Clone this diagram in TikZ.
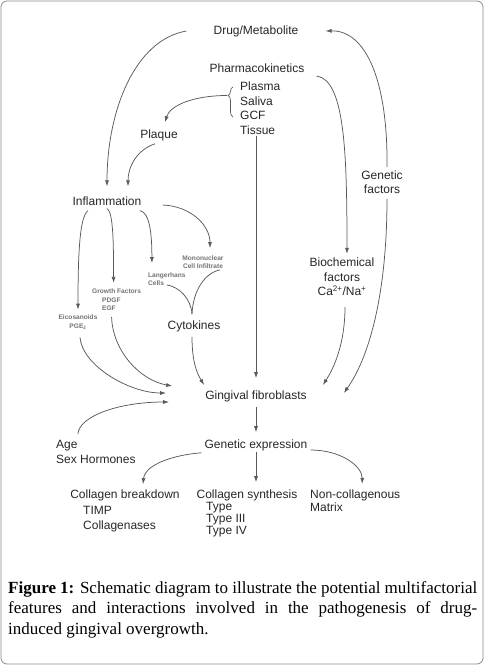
\documentclass[tikz,border=0pt]{standalone}
\usepackage{fontspec}
\setmainfont{Liberation Serif}
\setsansfont{Liberation Sans}
\usetikzlibrary{arrows.meta,decorations.pathreplacing}

\begin{document}
\begin{tikzpicture}[x=1pt, y=1pt,
  txt/.style={inner sep=1pt, text=black!85, font=\sffamily\fontsize{12}{14.5}\selectfont},
  lead/.style={font=\sffamily\fontsize{12}{#1}\selectfont},
  minor/.style={inner sep=1pt, text=black!55, align=center,
    font=\sffamily\bfseries\fontsize{6.6}{8.5}\selectfont},
  link/.style={draw=black!65, line width=0.75pt},
  arr/.style={link, -{Latex[length=6pt,width=4pt]}}]

\useasboundingbox (0,0) rectangle (484,-665);
\draw[black!45, line width=0.8pt, rounded corners=6pt] (1,-1) rectangle (483,-664); %% frame

\node[txt] (drug) at (256,-31) {Drug/Metabolite};
\node[txt] (pharma) at (257,-68) {Pharmacokinetics};
\node[txt, anchor=west, align=left] (fluids) at (239,-101) {Plasma\\Saliva\\GCF};
\node[txt, anchor=west] (tissue) at (239,-130) {Tissue};
\node[txt] (plaque) at (159,-135) {Plaque};
\node[txt, align=center] (genf) at (382,-182) {Genetic\\factors};
\node[txt] (infl) at (107,-201) {Inflammation};
\node[txt, align=center] (bio) at (342,-277)
  {Biochemical\\factors\\Ca\textsuperscript{2+}/Na\textsuperscript{+}};

\small
\node[minor] (mono) at (203,-262) {Mononuclear\\Cell Infiltrate};
\node[minor, anchor=west, align=left] (lang) at (147,-279) {Langerhans\\Cells};
\node[minor, anchor=west, align=left] (growth) at (91,-300)
  {Growth Factors\\\hspace*{10pt}PDGF\\\hspace*{10pt}EGF};
\node[minor] (eico) at (78,-322) {Eicosanoids\\PGE\textsubscript{2}};
\node[txt] (cyto) at (194,-326) {Cytokines};

\node[txt] (ging) at (256,-396) {Gingival fibroblasts};
\node[txt, lead=15, anchor=west, align=left] (age) at (55,-452) {Age\\Sex Hormones};
\node[txt] (genexp) at (256,-445) {Genetic expression};
\node[txt] (cbreak) at (125,-495) {Collagen breakdown};
\node[txt, lead=15, anchor=west, align=left] (cbitems) at (82,-519) {TIMP\\Collagenases};
\node[txt] (csyn) at (247,-495) {Collagen synthesis};
\node[txt, lead=12, anchor=west, align=left] (types) at (205,-520) {Type\\Type III\\Type IV};
\node[txt, lead=13, anchor=west, align=left] (noncol) at (309,-501) {Non-collagenous\\Matrix};

%% brace round the fluids
\draw[link, line width=0.7pt, decorate, decoration={brace, amplitude=5pt, aspect=0.72}]
  (233,-117) -- (233,-87);
\coordinate (bracetip) at (227,-95.5);

%% upper part
\draw[arr] ([xshift=-26pt]drug.west) .. controls +(-52,-9) and +(0,75) .. ([yshift=9pt]infl.north);
\draw[arr] ([xshift=5pt,yshift=2pt]genf.north) .. controls +(1,87) and +(40,1) .. ([xshift=26pt]drug.east);
\draw[arr] ([xshift=11pt,yshift=-8pt]pharma.east) .. controls +(28,-4) and +(0,103) .. ([xshift=5pt,yshift=3pt]bio.north);
\draw[arr] ([xshift=5pt,yshift=-4pt]genf.south) .. controls +(0,-90) and +(27,38) .. ([xshift=36pt,yshift=3pt]ging.east);
\draw[arr] ([xshift=3pt,yshift=-10pt]bio.south) .. controls +(0,-33) and +(13,20) .. ([xshift=15pt,yshift=11pt]ging.east);
\draw[arr] (bracetip) .. controls +(-33,0) and +(5,17) .. ([xshift=6pt,yshift=6pt]plaque.north);
\draw[arr] ([xshift=-4pt,yshift=-2pt]plaque.south) .. controls +(-18,-6) and +(0,20) .. ([xshift=21pt,yshift=9pt]infl.north);
\draw[arr] (tissue.south -| ging.north) -- ([yshift=11pt]ging.north);

%% inflammation
\draw[arr] ([xshift=20pt,yshift=-4pt]infl.east) .. controls +(28,-1) and +(0,23) .. ([xshift=7pt,yshift=6pt]mono.north);
\draw[arr] ([xshift=33pt,yshift=-4pt]infl.south) .. controls +(10,-2) and +(0,28) .. ([xshift=-15pt,yshift=8pt]lang.north);
\draw[arr] ([yshift=-2pt]infl.south) .. controls +(6,-3) and +(0,43) .. ([xshift=-3pt,yshift=5pt]growth.north);
\draw[arr] ([xshift=-19pt,yshift=-4pt]infl.south) .. controls +(-8,-6) and +(0,60) .. ([yshift=4pt]eico.north);
\draw[link] ([yshift=2pt]lang.south) .. controls +(12,-2) and +(-1,16) .. ([xshift=-2pt,yshift=5pt]cyto.north);
\draw[link] ([xshift=17pt]mono.south) .. controls +(-15,-3) and +(1,24) .. ([xshift=-2pt,yshift=5pt]cyto.north);

%% into the fibroblasts
\draw[arr] ([xshift=-2pt,yshift=-4pt]cyto.south) .. controls +(0,-23) and +(-8,13) .. ([yshift=11pt]ging.west);
\draw[arr] ([xshift=-5pt,yshift=-5pt]growth.south) .. controls +(1,-33) and +(-33,6) .. ([xshift=-32pt,yshift=10pt]ging.west);
\draw[arr] ([xshift=2pt,yshift=-7pt]eico.south) .. controls +(2,-28) and +(-37,0) .. ([xshift=-38pt,yshift=3pt]ging.west);
\draw[arr] ([xshift=-18pt,yshift=5pt]age.north) .. controls +(1,18) and +(-50,0) .. ([xshift=-35pt,yshift=-6pt]ging.west);

%% expression
\draw[arr] ([yshift=-4pt]ging.south) -- ([yshift=6pt]genexp.north);
\draw[arr] ([xshift=-2pt,yshift=-1pt]genexp.south west) .. controls +(-27,-2) and +(2,20) .. ([xshift=18pt,yshift=4pt]cbreak.north);
\draw[arr, shorten >=6pt] (genexp.south) -- (genexp.south |- csyn.north);
\draw[arr] ([xshift=2pt,yshift=-5pt]genexp.east) .. controls +(30,0) and +(0,18) .. ([xshift=7pt,yshift=5pt]noncol.north);

\node[anchor=north west, inner sep=0pt, text width=469pt, align=justify,
  font=\fontsize{17}{20.5}\selectfont] (caption) at (8,-581)
  {\textbf{Figure 1:} Schematic diagram to illustrate the potential multifactorial\linebreak
   features and interactions involved in the pathogenesis of drug-\linebreak
   induced gingival overgrowth.};

\end{tikzpicture}
\end{document}
